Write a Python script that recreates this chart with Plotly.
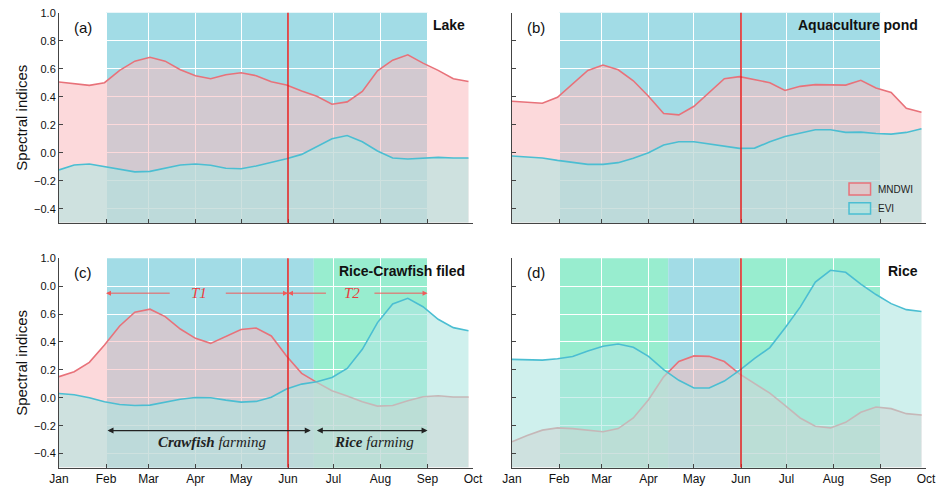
import plotly.graph_objects as go

# ---------------- data ----------------
dates = ["2019-01-01", "2019-01-11", "2019-01-21", "2019-01-31", "2019-02-10", "2019-02-20",
         "2019-03-02", "2019-03-12", "2019-03-22", "2019-04-01", "2019-04-11", "2019-04-21",
         "2019-05-01", "2019-05-11", "2019-05-21", "2019-05-31", "2019-06-10", "2019-06-20",
         "2019-06-30", "2019-07-10", "2019-07-20", "2019-07-30", "2019-08-09", "2019-08-19",
         "2019-08-29", "2019-09-08", "2019-09-18", "2019-09-28"]

lake_mndwi = [0.505, 0.493, 0.481, 0.50, 0.588, 0.654, 0.682, 0.654, 0.592, 0.55, 0.528, 0.557,
              0.571, 0.55, 0.507, 0.483, 0.44, 0.403, 0.346, 0.363, 0.438, 0.585, 0.661, 0.699,
              0.64, 0.588, 0.528, 0.509]
lake_evi = [-0.123, -0.088, -0.081, -0.10, -0.123, -0.137, -0.133, -0.111, -0.088, -0.081, -0.09,
            -0.111, -0.114, -0.095, -0.071, -0.043, -0.012, 0.047, 0.10, 0.123, 0.078, 0.012,
            -0.038, -0.045, -0.038, -0.033, -0.038, -0.038]

pond_mndwi = [0.367, 0.358, 0.353, 0.396, 0.493, 0.588, 0.626, 0.592, 0.514, 0.403, 0.28, 0.27,
              0.332, 0.427, 0.528, 0.543, 0.519, 0.50, 0.445, 0.474, 0.486, 0.483, 0.483, 0.517,
              0.462, 0.431, 0.318, 0.289]
pond_evi = [-0.024, -0.031, -0.038, -0.055, -0.071, -0.083, -0.083, -0.071, -0.04, 0.0, 0.055,
            0.078, 0.078, 0.064, 0.045, 0.031, 0.033, 0.078, 0.116, 0.142, 0.164, 0.164, 0.145,
            0.147, 0.137, 0.133, 0.145, 0.171]

rcf_mndwi = [0.151, 0.187, 0.254, 0.378, 0.515, 0.613, 0.635, 0.582, 0.493, 0.426, 0.39, 0.438,
             0.489, 0.50, 0.443, 0.30, 0.175, 0.11, 0.05, 0.012, -0.029, -0.06, -0.055, -0.022,
             0.007, 0.014, 0.005, 0.005]
rcf_evi = [0.031, 0.022, 0.0, -0.029, -0.048, -0.055, -0.053, -0.031, -0.01, 0.002, 0.0, -0.017,
           -0.031, -0.026, 0.004, 0.063, 0.098, 0.115, 0.146, 0.21, 0.347, 0.539, 0.673, 0.713,
           0.653, 0.563, 0.503, 0.481]

rice_mndwi = [-0.316, -0.27, -0.232, -0.216, -0.221, -0.232, -0.244, -0.221, -0.145, -0.014, 0.15,
              0.26, 0.30, 0.297, 0.26, 0.171, 0.104, 0.033, -0.055, -0.145, -0.204, -0.216,
              -0.176, -0.104, -0.066, -0.078, -0.114, -0.123]
rice_evi = [0.275, 0.273, 0.27, 0.28, 0.296, 0.335, 0.37, 0.385, 0.362, 0.297, 0.202, 0.125, 0.07,
            0.07, 0.12, 0.197, 0.282, 0.36, 0.50, 0.65, 0.83, 0.914, 0.90, 0.815, 0.74, 0.675,
            0.632, 0.618]

month_ticks = ["2019-01-01", "2019-02-01", "2019-03-01", "2019-04-01", "2019-05-01",
               "2019-06-01", "2019-07-01", "2019-08-01", "2019-09-01", "2019-10-01"]
month_labels = ["Jan", "Feb", "Mar", "Apr", "May", "Jun", "Jul", "Aug", "Sep", "Oct"]

y_ticks = [-0.4, -0.2, 0.0, 0.2, 0.4, 0.6, 0.8, 1.0]
y_labels_top = ["\u22120.4", "\u22120.2", "0.0", "0.2", "0.4", "0.6", "0.8", "1.0"]
y_labels_bottom = ["\u22120.4", "\u22120.2", "0.0", "0.2", "0.4", "0.6", "0.0", "1.0"]

Y_MIN, Y_MAX = -0.5, 1.0
X_MIN, X_MAX = "2019-01-01", "2019-10-01"
SPLIT_DATE = "2019-06-01"

panels = [
    # axis suffix, label, title, mndwi, evi, bands
    ("", "(a)", "Lake", lake_mndwi, lake_evi,
     [("2019-02-01", "2019-09-01", "water")]),
    ("2", "(b)", "Aquaculture pond", pond_mndwi, pond_evi,
     [("2019-02-01", "2019-09-01", "water")]),
    ("3", "(c)", "Rice-Crawfish filed", rcf_mndwi, rcf_evi,
     [("2019-02-01", "2019-06-18", "water"), ("2019-06-18", "2019-09-01", "veg")]),
    ("4", "(d)", "Rice", rice_mndwi, rice_evi,
     [("2019-02-01", "2019-04-14", "veg"), ("2019-04-14", "2019-05-31", "water"),
      ("2019-05-31", "2019-09-01", "veg")]),
]

# ---------------- styles ----------------
BAND_COLORS = {"water": "rgb(162,220,230)", "veg": "rgb(152,237,207)"}
MNDWI_LINE = "rgb(232,114,122)"
MNDWI_FILL = "rgba(250,185,190,0.55)"
EVI_LINE = "rgb(75,190,210)"
EVI_FILL = "rgba(175,230,225,0.6)"
SANS = "Liberation Sans, Arial, sans-serif"
SERIF = "Liberation Serif, Times New Roman, serif"

x_domains = {"": [0.0627, 0.5027], "2": [0.5441, 0.9841], "3": [0.0627, 0.5027], "4": [0.5441, 0.9841]}
y_domains = {"": [0.5436, 0.9740], "2": [0.5436, 0.9740], "3": [0.0420, 0.4707], "4": [0.0420, 0.4707]}

fig = go.Figure()
shapes = []
annotations = []
baseline = [Y_MIN] * len(dates)

for suf, lab, title, mndwi, evi, bands in panels:
    xa, ya = "x" + suf, "y" + suf
    fig.add_trace(go.Scatter(x=dates, y=baseline, xaxis=xa, yaxis=ya, mode="lines",
                             line=dict(width=0), showlegend=False, hoverinfo="skip"))
    fig.add_trace(go.Scatter(x=dates, y=mndwi, xaxis=xa, yaxis=ya, mode="lines", name="MNDWI",
                             line=dict(color=MNDWI_LINE, width=1.6), fill="tonexty",
                             fillcolor=MNDWI_FILL, showlegend=False))
    fig.add_trace(go.Scatter(x=dates, y=baseline, xaxis=xa, yaxis=ya, mode="lines",
                             line=dict(width=0), showlegend=False, hoverinfo="skip"))
    fig.add_trace(go.Scatter(x=dates, y=evi, xaxis=xa, yaxis=ya, mode="lines", name="EVI",
                             line=dict(color=EVI_LINE, width=1.6), fill="tonexty",
                             fillcolor=EVI_FILL, showlegend=False))
    for x0, x1, kind in bands:
        shapes.append(dict(type="rect", xref=xa, yref=ya + " domain", x0=x0, x1=x1, y0=0, y1=1,
                           fillcolor=BAND_COLORS[kind], line=dict(width=0), layer="below"))
    shapes.append(dict(type="line", xref=xa, yref=ya + " domain", x0=SPLIT_DATE, x1=SPLIT_DATE,
                       y0=0, y1=1, line=dict(color="rgb(228,30,30)", width=1.5), layer="above"))
    annotations.append(dict(text=lab, xref=xa + " domain", yref=ya + " domain", x=0.032, y=0.93,
                            xanchor="left", yanchor="middle", showarrow=False,
                            font=dict(family=SANS, size=15, color="#111")))
    annotations.append(dict(text="<b>" + title + "</b>", xref=xa + " domain", yref=ya + " domain",
                            x=0.985, y=0.94, xanchor="right", yanchor="middle", showarrow=False,
                            font=dict(family=SANS, size=14, color="#111")))

    bottom = suf in ("3", "4")
    left = suf in ("", "3")
    fig.layout["xaxis" + suf] = dict(
        domain=x_domains[suf], anchor=ya, type="date", range=[X_MIN, X_MAX], automargin=False,
        tickvals=month_ticks, ticktext=month_labels, showticklabels=bottom,
        ticks="inside", ticklen=4, tickcolor="#444", showline=True, linecolor="#444", linewidth=1,
        showgrid=True, gridcolor="white", gridwidth=1, zeroline=False,
        tickfont=dict(family=SANS, size=12, color="#111"))
    fig.layout["yaxis" + suf] = dict(
        domain=y_domains[suf], anchor=xa, range=[Y_MIN, Y_MAX], automargin=False,
        tickvals=y_ticks, ticktext=(y_labels_bottom if bottom else y_labels_top),
        showticklabels=left, ticks="inside", ticklen=4, tickcolor="#444",
        showline=True, linecolor="#444", linewidth=1,
        showgrid=True, gridcolor="white", gridwidth=1, zeroline=False,
        tickfont=dict(family=SANS, size=11, color="#111"),
        title=dict(text="Spectral indices" if left else "", standoff=2,
                   font=dict(family=SANS, size=15, color="#111")))

# ---------------- panel (c) period annotations ----------------
RED_ARROW = "rgb(240,90,90)"
t_y = 0.75
for head, tail in [("2019-02-01", "2019-03-16"), ("2019-06-01", "2019-04-20"),
                   ("2019-06-01", "2019-06-27"), ("2019-09-01", "2019-07-27")]:
    annotations.append(dict(x=head, y=t_y, ax=tail, ay=t_y, xref="x3", yref="y3", axref="x3",
                            ayref="y3", text="", showarrow=True, arrowhead=2, arrowsize=1,
                            arrowwidth=1, arrowcolor=RED_ARROW, standoff=0))
for txt, xpos in [("T1", "2019-04-03"), ("T2", "2019-07-13")]:
    annotations.append(dict(x=xpos, y=t_y, xref="x3", yref="y3", text="<i>" + txt + "</i>",
                            showarrow=False, font=dict(family=SERIF, size=15, color="rgb(235,60,60)")))

f_y = -0.235
for start, end in [("2019-02-01", "2019-06-16"), ("2019-06-19", "2019-09-01")]:
    annotations.append(dict(x=end, y=f_y, ax=start, ay=f_y, xref="x3", yref="y3", axref="x3",
                            ayref="y3", text="", showarrow=True, arrowhead=2, startarrowhead=2,
                            arrowside="end+start", arrowsize=1, startarrowsize=1, arrowwidth=1.2,
                            arrowcolor="#222", standoff=0, startstandoff=0))
for txt, xpos in [("<b><i>Crawfish</i></b><i> farming</i>", "2019-04-12"),
                  ("<b><i>Rice</i></b><i> farming</i>", "2019-07-28")]:
    annotations.append(dict(x=xpos, y=-0.32, xref="x3", yref="y3", text=txt, showarrow=False,
                            font=dict(family=SERIF, size=15, color="#222")))

# ---------------- legend (panel b) ----------------
for (y0, y1, ytxt, name, fc, lc) in [(0.132, 0.189, 0.16, "MNDWI", MNDWI_FILL, MNDWI_LINE),
                                       (0.041, 0.095, 0.068, "EVI", EVI_FILL, EVI_LINE)]:
    shapes.append(dict(type="rect", xref="x2 domain", yref="y2 domain", x0=0.814, x1=0.866,
                       y0=y0, y1=y1, fillcolor=fc, line=dict(color=lc, width=1.5), layer="above"))
    annotations.append(dict(text=name, xref="x2 domain", yref="y2 domain", x=0.88, y=ytxt,
                            xanchor="left", yanchor="middle", showarrow=False,
                            font=dict(family=SANS, size=10, color="#222")))

fig.update_layout(width=941, height=488, margin=dict(l=0, r=0, t=0, b=0),
                  paper_bgcolor="white", plot_bgcolor="white", showlegend=False,
                  shapes=shapes, annotations=annotations)

fig.write_html("out.html", config={"displayModeBar": False},
               post_script="document.body.style.margin='0';document.body.style.overflow='hidden';")
